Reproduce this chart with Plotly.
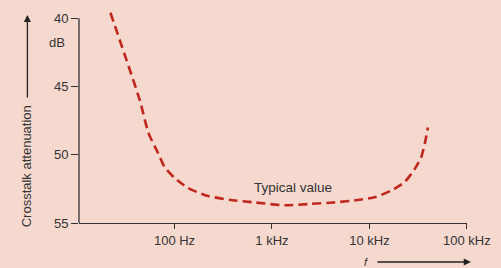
import plotly.graph_objects as go

# Data
freq_hz = [22, 44, 54, 68, 79, 100, 135, 215, 365, 675, 1350, 2500, 4250, 7950,
           11500, 17000, 23000, 28800, 33900, 37200, 39800]
atten_db = [39.6, 46.0, 48.4, 49.9, 50.9, 51.7, 52.4, 53.0, 53.3, 53.5, 53.7, 53.6, 53.5, 53.3,
            53.1, 52.6, 52.0, 51.1, 50.2, 49.1, 48.0]

x_tickvals = [100, 1000, 10000, 100000]
x_ticktext = ["100 Hz", "1 kHz", "10 kHz", "100 kHz"]
y_tickvals = [40, 45, 50, 55]

BG = "#f5d8ce"
INK = "#333333"
RED = "#c0281e"
FONT = "Liberation Sans, Arial, sans-serif"

fig = go.Figure()
fig.add_trace(go.Scatter(
    x=freq_hz, y=atten_db, mode="lines",
    line=dict(color=RED, width=2.6, dash="9px,5px", shape="spline", smoothing=0.6),
    hoverinfo="skip", showlegend=False,
))

fig.update_layout(
    width=501, height=268,
    margin=dict(l=79, r=24, t=10, b=45),
    paper_bgcolor=BG, plot_bgcolor=BG,
    font=dict(family=FONT, size=13, color=INK),
    showlegend=False,
)
fig.update_xaxes(
    type="log", range=[1.02, 5.001],
    tickvals=x_tickvals, ticktext=x_ticktext,
    showgrid=False, zeroline=False,
    showline=True, linecolor=INK, linewidth=1.3,
    ticks="outside", ticklen=5, tickwidth=1.3, tickcolor=INK,
    tickfont=dict(size=13, color=INK),
)
fig.update_yaxes(
    range=[55, 39.4],
    tickvals=y_tickvals,
    showgrid=False, zeroline=False, showline=False,
    ticks="outside", ticklen=7, tickwidth=1.3, tickcolor=INK,
    tickfont=dict(size=13, color=INK),
)

# y-axis line from 40 to 55 dB only
fig.add_shape(type="line", xref="paper", yref="y", x0=0, x1=0, y0=40, y1=55,
              line=dict(color=INK, width=1.3))

# unit label
fig.add_annotation(text="dB", xref="paper", yref="y", x=-0.03, y=41.8,
                   showarrow=False, xanchor="right", yanchor="middle",
                   font=dict(size=13, color=INK))

# curve label
fig.add_annotation(text="Typical value", xref="x", yref="y", x=3.22, y=52.4,
                   showarrow=False, xanchor="center", yanchor="middle",
                   font=dict(size=13.5, color=INK))

# y title with upward arrow
fig.add_annotation(text="Crosstalk attenuation", xref="paper", yref="paper",
                   x=-0.133, y=0.268, textangle=-90, showarrow=False,
                   xanchor="center", yanchor="middle",
                   font=dict(size=13, color=INK))
fig.add_annotation(text="", xref="paper", yref="paper", x=-0.133, y=0.977,
                   ax=0, ay=84, showarrow=True, arrowhead=2, arrowsize=1.1,
                   arrowwidth=1.3, arrowcolor="#222222",
                   xanchor="center", yanchor="middle")

# f with rightward arrow
fig.add_annotation(text="<i>f</i>", xref="paper", yref="paper", x=(373 - 79) / 398,
                   y=(223 - 262) / 213, showarrow=False,
                   xanchor="center", yanchor="middle",
                   font=dict(size=11, color=INK))
fig.add_annotation(text="", xref="paper", yref="paper", x=(481 - 79) / 398,
                   y=(223 - 262) / 213, ax=-95, ay=0, showarrow=True, arrowhead=2,
                   arrowsize=1.1, arrowwidth=1.3, arrowcolor="#222222",
                   xanchor="center", yanchor="middle")

fig.write_html("out.html", config={"displayModeBar": False},
               post_script="document.body.style.margin='0';document.body.style.overflow='hidden';")
